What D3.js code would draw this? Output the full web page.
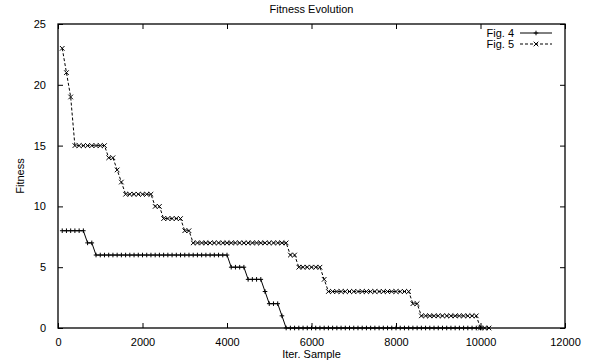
<!DOCTYPE html>
<html>
<head>
<meta charset="utf-8">
<script src="https://cdn.jsdelivr.net/npm/d3@7"></script>
<style>
  html, body { margin: 0; padding: 0; background: #fff; }
  text { font-family: "Liberation Sans", Arial, sans-serif; font-size: 11px; fill: #000; }
</style>
</head>
<body>
<div id="chart"></div>
<script>
// iteration sample (x) and fitness (y) for each run
const fig4Iter = [
  100, 200, 300, 400, 500, 600, 700, 800, 900, 1000,
  1100, 1200, 1300, 1400, 1500, 1600, 1700, 1800, 1900, 2000,
  2100, 2200, 2300, 2400, 2500, 2600, 2700, 2800, 2900, 3000,
  3100, 3200, 3300, 3400, 3500, 3600, 3700, 3800, 3900, 4000,
  4100, 4200, 4300, 4400, 4500, 4600, 4700, 4800, 4900, 5000,
  5100, 5200, 5300, 5400, 5500, 5600, 5700, 5800, 5900, 6000,
  6100, 6200, 6300, 6400, 6500, 6600, 6700, 6800, 6900, 7000,
  7100, 7200, 7300, 7400, 7500, 7600, 7700, 7800, 7900, 8000,
  8100, 8200, 8300, 8400, 8500, 8600, 8700, 8800, 8900, 9000,
  9100, 9200, 9300, 9400, 9500, 9600, 9700, 9800, 9900, 10000
];
const fig4Fitness = [
  8, 8, 8, 8, 8, 8, 7, 7, 6, 6,
  6, 6, 6, 6, 6, 6, 6, 6, 6, 6,
  6, 6, 6, 6, 6, 6, 6, 6, 6, 6,
  6, 6, 6, 6, 6, 6, 6, 6, 6, 6,
  5, 5, 5, 5, 4, 4, 4, 4, 3, 2,
  2, 2, 1, 0, 0, 0, 0, 0, 0, 0,
  0, 0, 0, 0, 0, 0, 0, 0, 0, 0,
  0, 0, 0, 0, 0, 0, 0, 0, 0, 0,
  0, 0, 0, 0, 0, 0, 0, 0, 0, 0,
  0, 0, 0, 0, 0, 0, 0, 0, 0, 0
];
const fig5Iter = [
  100, 200, 300, 400, 500, 600, 700, 800, 900, 1000,
  1100, 1200, 1300, 1400, 1500, 1600, 1700, 1800, 1900, 2000,
  2100, 2200, 2300, 2400, 2500, 2600, 2700, 2800, 2900, 3000,
  3100, 3200, 3300, 3400, 3500, 3600, 3700, 3800, 3900, 4000,
  4100, 4200, 4300, 4400, 4500, 4600, 4700, 4800, 4900, 5000,
  5100, 5200, 5300, 5400, 5500, 5600, 5700, 5800, 5900, 6000,
  6100, 6200, 6300, 6400, 6500, 6600, 6700, 6800, 6900, 7000,
  7100, 7200, 7300, 7400, 7500, 7600, 7700, 7800, 7900, 8000,
  8100, 8200, 8300, 8400, 8500, 8600, 8700, 8800, 8900, 9000,
  9100, 9200, 9300, 9400, 9500, 9600, 9700, 9800, 9900, 10000,
  10100, 10200
];
const fig5Fitness = [
  23, 21, 19, 15, 15, 15, 15, 15, 15, 15,
  15, 14, 14, 13, 12, 11, 11, 11, 11, 11,
  11, 11, 10, 10, 9, 9, 9, 9, 9, 8,
  8, 7, 7, 7, 7, 7, 7, 7, 7, 7,
  7, 7, 7, 7, 7, 7, 7, 7, 7, 7,
  7, 7, 7, 7, 6, 6, 5, 5, 5, 5,
  5, 5, 4, 3, 3, 3, 3, 3, 3, 3,
  3, 3, 3, 3, 3, 3, 3, 3, 3, 3,
  3, 3, 3, 2, 2, 1, 1, 1, 1, 1,
  1, 1, 1, 1, 1, 1, 1, 1, 1, 0,
  0, 0
];
const xTicks = [0, 2000, 4000, 6000, 8000, 10000, 12000];
const yTicks = [0, 5, 10, 15, 20, 25];

const W = 595, H = 364;
const margin = { top: 24, right: 30, bottom: 36, left: 58 };
const width = W - margin.left - margin.right;
const height = H - margin.top - margin.bottom;

const svg = d3.select('#chart').append('svg')
  .attr('width', W)
  .attr('height', H);

const g = svg.append('g')
  .attr('transform', `translate(${margin.left},${margin.top})`);

const x = d3.scaleLinear().domain([0, 12000]).range([0, width]);
const y = d3.scaleLinear().domain([0, 25]).range([height, 0]);

// ticks on all four sides, pointing inward (gnuplot style)
const tickLen = 5;
g.append('g')
  .attr('transform', `translate(0,${height})`)
  .call(d3.axisBottom(x).tickValues(xTicks).tickFormat(d3.format('d'))
    .tickSizeInner(-tickLen).tickSizeOuter(0).tickPadding(10))
  .call(a => a.select('.domain').remove());
g.append('g')
  .call(d3.axisTop(x).tickValues(xTicks).tickSizeInner(-tickLen).tickSizeOuter(0).tickFormat(''))
  .call(a => a.select('.domain').remove());
g.append('g')
  .call(d3.axisLeft(y).tickValues(yTicks).tickSizeInner(-tickLen).tickSizeOuter(0).tickPadding(12))
  .call(a => a.select('.domain').remove());
g.append('g')
  .attr('transform', `translate(${width},0)`)
  .call(d3.axisRight(y).tickValues(yTicks).tickSizeInner(-tickLen).tickSizeOuter(0).tickFormat(''))
  .call(a => a.select('.domain').remove());

g.selectAll('.tick line').attr('stroke', '#000');
g.selectAll('.tick text').attr('font-size', '11px').attr('font-family', null);

g.append('rect')
  .attr('width', width)
  .attr('height', height)
  .attr('fill', 'none')
  .attr('stroke', '#000')
  .attr('stroke-width', 1.3);

const line = d3.line().x(d => x(d[0])).y(d => y(d[1]));

const fig4 = fig4Iter.map((v, i) => [v, fig4Fitness[i]]);
const fig5 = fig5Iter.map((v, i) => [v, fig5Fitness[i]]);

const s = 2.3;
const plusPath = `M${-s},0H${s}M0,${-s}V${s}`;
const crossPath = `M${-s},${-s}L${s},${s}M${-s},${s}L${s},${-s}`;

g.append('path')
  .attr('d', line(fig4))
  .attr('fill', 'none')
  .attr('stroke', '#000')
  .attr('stroke-width', 1);

g.selectAll('.p4')
  .data(fig4)
  .enter()
  .append('path')
  .attr('class', 'p4')
  .attr('transform', d => `translate(${x(d[0])},${y(d[1])})`)
  .attr('d', plusPath)
  .attr('stroke', '#000')
  .attr('stroke-width', 1);

g.append('path')
  .attr('d', line(fig5))
  .attr('fill', 'none')
  .attr('stroke', '#000')
  .attr('stroke-width', 1)
  .attr('stroke-dasharray', '3,2');

g.selectAll('.p5')
  .data(fig5)
  .enter()
  .append('path')
  .attr('class', 'p5')
  .attr('transform', d => `translate(${x(d[0])},${y(d[1])})`)
  .attr('d', crossPath)
  .attr('stroke', '#000')
  .attr('stroke-width', 1);

// legend
const legend = [
  { label: 'Fig. 4', dash: null, marker: plusPath },
  { label: 'Fig. 5', dash: '3,2', marker: crossPath }
];
const lg = g.selectAll('.legend')
  .data(legend)
  .enter()
  .append('g')
  .attr('class', 'legend')
  .attr('transform', (d, i) => `translate(${width - 51},${9 + i * 11})`);

lg.append('text')
  .attr('x', 0)
  .attr('y', 4)
  .attr('text-anchor', 'end')
  .text(d => d.label);

lg.append('line')
  .attr('x1', 6)
  .attr('x2', 38)
  .attr('stroke', '#000')
  .attr('stroke-width', 1)
  .attr('stroke-dasharray', d => d.dash);

lg.append('path')
  .attr('transform', 'translate(22,0)')
  .attr('d', d => d.marker)
  .attr('stroke', '#000')
  .attr('stroke-width', 1);

svg.append('text')
  .attr('x', margin.left + width / 2)
  .attr('y', 13)
  .attr('text-anchor', 'middle')
  .text('Fitness Evolution');

svg.append('text')
  .attr('x', margin.left + width / 2)
  .attr('y', 358)
  .attr('text-anchor', 'middle')
  .text('Iter. Sample');

svg.append('text')
  .attr('transform', `translate(24,${margin.top + height / 2}) rotate(-90)`)
  .attr('text-anchor', 'middle')
  .text('Fitness');
</script>
</body>
</html>
